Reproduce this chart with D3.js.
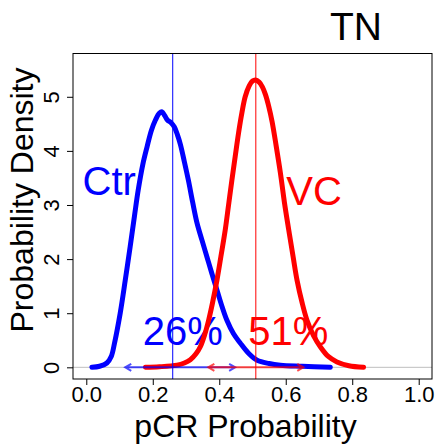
<!DOCTYPE html>
<html>
<head>
<meta charset="utf-8">
<script src="https://cdn.jsdelivr.net/npm/d3@7"></script>
<style>
    body { margin: 0; background: #fff; }
    text { font-family: "Liberation Sans", Arial, Helvetica, sans-serif; }
</style>
</head>
<body>
<svg id="chart"></svg>
<script>
// posterior densities of pCR probability
const ctrX = [0.017, 0.04, 0.062, 0.075, 0.085, 0.102, 0.117, 0.132, 0.145, 0.156, 0.17, 0.183, 0.196, 0.208, 0.22, 0.228,
    0.236, 0.244, 0.255, 0.265, 0.274, 0.283, 0.295, 0.307, 0.32, 0.333, 0.348, 0.363, 0.378, 0.393, 0.408, 0.423,
    0.443, 0.463, 0.488, 0.514, 0.55, 0.584, 0.65, 0.734];
const ctrY = [0.0, 0.02, 0.08, 0.2, 0.45, 1.0, 1.6, 2.23, 2.8, 3.27, 3.75, 4.08, 4.38, 4.57, 4.7, 4.72,
    4.65, 4.57, 4.52, 4.44, 4.3, 4.12, 3.8, 3.46, 3.05, 2.67, 2.35, 2.04, 1.73, 1.43, 1.13, 0.87,
    0.62, 0.45, 0.26, 0.13, 0.07, 0.04, 0.02, 0.0];

const vcX = [0.178, 0.22, 0.273, 0.295, 0.313, 0.33, 0.343, 0.356, 0.368, 0.38, 0.393, 0.405, 0.418, 0.428, 0.438, 0.448,
    0.458, 0.468, 0.478, 0.49, 0.5, 0.509, 0.52, 0.53, 0.539, 0.549, 0.559, 0.571, 0.584, 0.596, 0.609, 0.622,
    0.634, 0.649, 0.664, 0.684, 0.704, 0.728, 0.754, 0.79, 0.834];
const vcY = [0.0, 0.01, 0.04, 0.08, 0.14, 0.25, 0.38, 0.6, 0.87, 1.2, 1.61, 2.05, 2.54, 3.0, 3.46, 3.9,
    4.33, 4.7, 5.0, 5.2, 5.29, 5.31, 5.27, 5.18, 5.04, 4.82, 4.54, 4.1, 3.59, 3.05, 2.54, 2.05,
    1.61, 1.2, 0.87, 0.58, 0.38, 0.2, 0.1, 0.03, 0.0];

const groups = ["Ctr", "VC"];
const colors = ["#0000ff", "#ff0000"];
const medians = [0.26, 0.51];
const intervalLo = [0.117, 0.367];
const intervalHi = [0.448, 0.653];
const pctLabels = ["26%", "51%"];
const groupLabelX = [0.069, 0.685];
const groupLabelY = [3.18, 3.0];
const pctLabelX = [0.29, 0.608];
const pctLabelY = [0.41, 0.41];

const xTicks = [0, 0.2, 0.4, 0.6, 0.8, 1.0];
const yTicks = [0, 1, 2, 3, 4, 5];

const width = 440;
const height = 445;
const margin = { top: 53.5, right: 8, bottom: 66, left: 73 };

const svg = d3.select("#chart")
    .attr("width", width)
    .attr("height", height);

const x = d3.scaleLinear()
    .domain([-0.04, 1.04])
    .range([margin.left, width - margin.right]);

const y = d3.scaleLinear()
    .domain([-0.216, 5.80])
    .range([height - margin.bottom, margin.top]);

// zero reference line
svg.append("line")
    .attr("x1", x.range()[0]).attr("x2", x.range()[1])
    .attr("y1", y(0)).attr("y2", y(0))
    .attr("stroke", "#bebebe")
    .attr("stroke-width", 1);

// labels
svg.selectAll(".group-label")
    .data(groups)
    .join("text")
    .attr("class", "group-label")
    .attr("x", (d, i) => x(groupLabelX[i]))
    .attr("y", (d, i) => y(groupLabelY[i]))
    .attr("text-anchor", "middle")
    .attr("font-size", "40px")
    .attr("fill", (d, i) => colors[i])
    .text(d => d);

svg.selectAll(".pct-label")
    .data(pctLabels)
    .join("text")
    .attr("class", "pct-label")
    .attr("x", (d, i) => x(pctLabelX[i]))
    .attr("y", (d, i) => y(pctLabelY[i]))
    .attr("text-anchor", "middle")
    .attr("font-size", "40px")
    .attr("fill", (d, i) => colors[i])
    .text(d => d);

// density curves
const line = d3.line()
    .x(d => x(d[0]))
    .y(d => y(d[1]))
    .curve(d3.curveCatmullRom.alpha(0.5));

const series = [d3.zip(ctrX, ctrY), d3.zip(vcX, vcY)];

svg.selectAll(".density")
    .data(series)
    .join("path")
    .attr("class", "density")
    .attr("d", line)
    .attr("fill", "none")
    .attr("stroke", (d, i) => colors[i])
    .attr("stroke-width", 5)
    .attr("stroke-linecap", "round")
    .attr("stroke-linejoin", "round");

// median lines
svg.selectAll(".median")
    .data(medians)
    .join("line")
    .attr("class", "median")
    .attr("x1", d => x(d)).attr("x2", d => x(d))
    .attr("y1", y.range()[0]).attr("y2", y.range()[1])
    .attr("stroke", (d, i) => colors[i])
    .attr("stroke-width", 1);

// interval arrows (both ends)
const headLen = 7;
const hx = headLen * Math.cos(Math.PI / 6);
const hy = headLen * Math.sin(Math.PI / 6);

function arrowPath(lo, hi) {
    const x0 = x(lo), x1 = x(hi), yy = y(0);
    return `M${x0},${yy}L${x1},${yy}` +
        `M${x0 + hx},${yy - hy}L${x0},${yy}L${x0 + hx},${yy + hy}` +
        `M${x1 - hx},${yy - hy}L${x1},${yy}L${x1 - hx},${yy + hy}`;
}

svg.selectAll(".interval")
    .data(groups)
    .join("path")
    .attr("class", "interval")
    .attr("d", (d, i) => arrowPath(intervalLo[i], intervalHi[i]))
    .attr("fill", "none")
    .attr("stroke", (d, i) => colors[i])
    .attr("stroke-opacity", 0.7)
    .attr("stroke-width", 2);

// axes
const xAxis = svg.append("g")
    .attr("transform", `translate(0, ${y.range()[0]})`)
    .call(d3.axisBottom(x).tickValues(xTicks).tickFormat(d3.format(".1f")).tickSize(6));
xAxis.select(".domain").remove();
xAxis.selectAll("line").attr("stroke", "#000");
xAxis.selectAll("text")
    .attr("y", 23)
    .attr("dy", 0)
    .attr("font-size", "22px")
    .attr("font-family", null)
    .attr("fill", "#000");

const yAxis = svg.append("g")
    .attr("transform", `translate(${margin.left}, 0)`)
    .call(d3.axisLeft(y).tickValues(yTicks).tickFormat(d3.format("d")).tickSize(6));
yAxis.select(".domain").remove();
yAxis.selectAll("line").attr("stroke", "#000");
yAxis.selectAll("text")
    .attr("x", 0)
    .attr("dy", 0)
    .attr("transform", "translate(-14, 0) rotate(-90)")
    .attr("text-anchor", "middle")
    .attr("font-size", "22px")
    .attr("font-family", null)
    .attr("fill", "#000");

// plot box
svg.append("rect")
    .attr("x", x.range()[0])
    .attr("y", y.range()[1])
    .attr("width", x.range()[1] - x.range()[0])
    .attr("height", y.range()[0] - y.range()[1])
    .attr("fill", "none")
    .attr("stroke", "#000")
    .attr("stroke-width", 1);

svg.append("text")
    .attr("x", 245.5)
    .attr("y", 437)
    .attr("text-anchor", "middle")
    .attr("font-size", "32px")
    .text("pCR Probability");

svg.append("text")
    .attr("transform", "translate(33, 200) rotate(-90)")
    .attr("text-anchor", "middle")
    .attr("font-size", "32px")
    .text("Probability Density");

svg.append("text")
    .attr("x", 356)
    .attr("y", 40)
    .attr("text-anchor", "middle")
    .attr("font-size", "39px")
    .text("TN");
</script>
</body>
</html>
